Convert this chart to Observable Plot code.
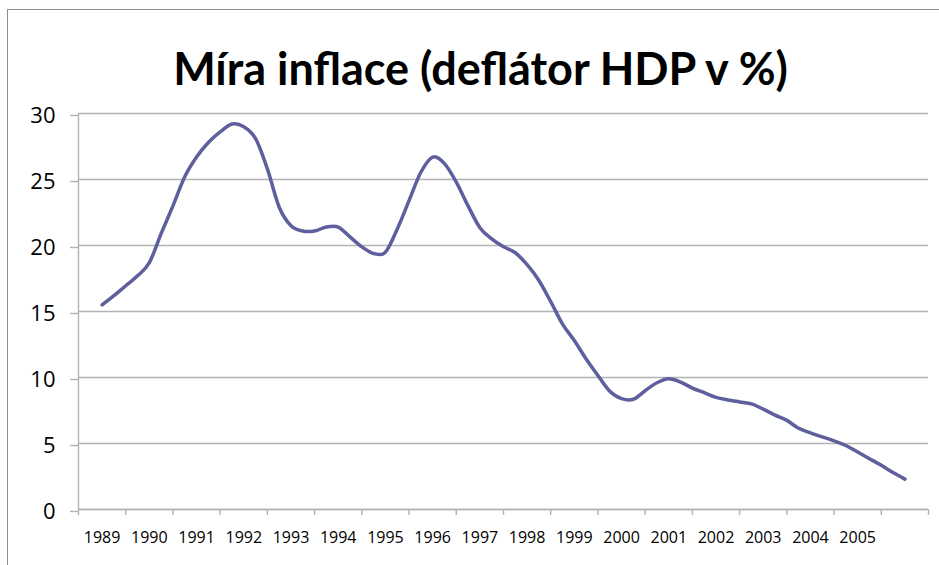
<!DOCTYPE html>
<html>
<head>
<meta charset="utf-8">
<script src="https://cdn.jsdelivr.net/npm/d3@7"></script>
<script src="https://cdn.jsdelivr.net/npm/@observablehq/plot@0.6"></script>
<style>
  html, body { margin: 0; padding: 0; background: #fff; }
  #wrap { position: relative; width: 939px; height: 565px; overflow: hidden; background: #fff; }
  #frame { position: absolute; left: 7px; top: 9px; width: 960px; height: 600px;
           border-left: 1.5px solid #8c8c8c; border-top: 1.5px solid #8c8c8c; box-sizing: border-box; }
  #title { position: absolute; left: 0; top: 38px; width: 939px; box-sizing: border-box; padding-left: 22px;
           text-align: center; font-family: "Lato", sans-serif; font-weight: 700; font-size: 45px;
           line-height: 60px; color: #000; white-space: nowrap; }
  #chart { position: absolute; left: 0; top: 100px; }
  #chart svg { display: block; }
</style>
</head>
<body>
<div id="wrap">
  <div id="frame"></div>
  <div id="title">Míra inflace (deflátor HDP v %)</div>
  <div id="chart"></div>
</div>
<script>
// Quarterly values of the GDP deflator inflation rate (%)
const firstYear = 1989;
const values = [
  15.5, 16.2, 16.95, 17.7, 18.7, 20.9, 23.0, 25.2, 26.7, 27.8, 28.6, 29.2,
  29.0, 28.1, 25.8, 22.9, 21.5, 21.1, 21.1, 21.4, 21.4, 20.65, 19.9, 19.4,
  19.5, 21.25, 23.4, 25.55, 26.7, 26.2, 24.8, 23.0, 21.35, 20.5, 19.9, 19.45,
  18.55, 17.35, 15.75, 14.05, 12.8, 11.4, 10.15, 8.96, 8.4, 8.35, 9.0, 9.6,
  9.9, 9.65, 9.2, 8.85, 8.5, 8.3, 8.15, 8.0, 7.6, 7.15, 6.75, 6.15,
  5.8, 5.5, 5.2, 4.85, 4.35, 3.85, 3.35, 2.8, 2.3
];
const yearLabels = [1989, 1990, 1991, 1992, 1993, 1994, 1995, 1996, 1997, 1998,
                    1999, 2000, 2001, 2002, 2003, 2004, 2005];
const yTicks = [0, 5, 10, 15, 20, 25, 30];

// periods: first value sits in the middle of the 1989 category, one step per quarter
const rows = values.map((v, i) => ({period: firstYear + 0.5 + i / 4, value: v}));
const categoryEdges = d3.range(firstYear, firstYear + 19);
const labelCenters = yearLabels.map(y => y + 0.5);

const gray = "#b3b3b3";

const chart = Plot.plot({
  width: 939,
  height: 465,
  marginLeft: 78,
  marginRight: 11,
  marginTop: 13,
  marginBottom: 56,
  style: {fontFamily: "'Open Sans', sans-serif", color: "#000", background: "transparent"},
  x: {domain: [firstYear, firstYear + 18], axis: null},
  y: {domain: [0, 30], axis: null},
  marks: [
    Plot.gridY(yTicks, {stroke: gray, strokeOpacity: 1, strokeWidth: 1.4}),
    Plot.axisY(yTicks, {anchor: "left", label: null, tickSize: 8, tickPadding: 15, fontSize: 22, stroke: gray, strokeOpacity: 1, strokeWidth: 1.4, fill: "#000", dy: 2, tickFormat: d => String(d)}),
    Plot.ruleX([firstYear], {stroke: gray, strokeWidth: 1.4}),
    Plot.ruleY([0], {stroke: gray, strokeWidth: 1.4}),
    Plot.axisX(categoryEdges, {anchor: "bottom", label: null, tickSize: 6, stroke: gray, strokeOpacity: 1, strokeWidth: 1.4, tickFormat: () => ""}),
    Plot.axisX(labelCenters, {anchor: "bottom", label: null, tickSize: 0, tickPadding: 22, fontSize: 16, fill: "#000", tickFormat: d => String(Math.floor(d))}),
    Plot.line(rows, {x: "period", y: "value", curve: "cardinal", stroke: "#5e5f9c", strokeWidth: 3.5, strokeLinecap: "round", strokeLinejoin: "round"})
  ]
});
document.getElementById("chart").appendChild(chart);
</script>
</body>
</html>
